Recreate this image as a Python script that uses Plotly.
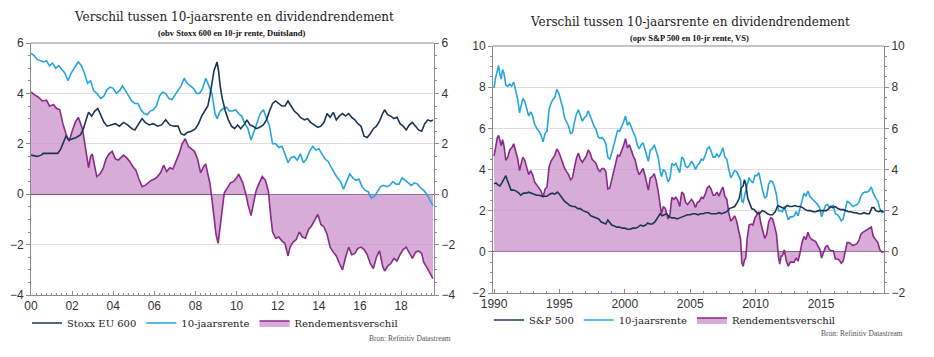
import plotly.graph_objects as go

# ---------------- Left chart: Duitsland (Stoxx EU 600) ----------------
de_rate_x = [2000.0, 2000.15, 2000.3, 2000.45, 2000.6, 2000.75, 2000.9, 2001.05, 2001.2, 2001.35, 2001.5, 2001.65, 2001.8, 2001.95,
             2002.1, 2002.3, 2002.45, 2002.6, 2002.75, 2002.9, 2003.05, 2003.2, 2003.4, 2003.55, 2003.7, 2003.85, 2004.0, 2004.15,
             2004.3, 2004.45, 2004.6, 2004.75, 2004.9, 2005.05, 2005.2, 2005.35, 2005.5, 2005.65, 2005.8, 2005.95, 2006.1, 2006.25,
             2006.4, 2006.55, 2006.7, 2006.85, 2007.0, 2007.15, 2007.3, 2007.45, 2007.6, 2007.75, 2007.9, 2008.05, 2008.2, 2008.35,
             2008.5, 2008.65, 2008.8, 2008.95, 2009.05, 2009.2, 2009.35, 2009.5, 2009.65, 2009.8, 2009.95, 2010.1, 2010.25, 2010.4,
             2010.55, 2010.7, 2010.85, 2011.0, 2011.15, 2011.3, 2011.45, 2011.6, 2011.75, 2011.9, 2012.05, 2012.2, 2012.35, 2012.5,
             2012.65, 2012.8, 2012.95, 2013.1, 2013.25, 2013.4, 2013.55, 2013.7, 2013.85, 2014.0, 2014.15, 2014.3, 2014.45, 2014.6,
             2014.75, 2014.9, 2015.05, 2015.2, 2015.35, 2015.5, 2015.65, 2015.8, 2015.95, 2016.1, 2016.25, 2016.4, 2016.55, 2016.7,
             2016.85, 2017.0, 2017.15, 2017.3, 2017.45, 2017.6, 2017.75, 2017.9, 2018.05, 2018.2, 2018.35, 2018.5, 2018.65, 2018.8,
             2018.95, 2019.1, 2019.25, 2019.4, 2019.55]
de_rate_y = [5.6, 5.5, 5.35, 5.3, 5.25, 5.3, 5.1, 5.2, 5.0, 5.1, 4.95, 4.8, 4.5, 4.8,
             5.0, 5.25, 5.1, 4.8, 4.4, 4.5, 4.1, 4.0, 3.8, 3.9, 4.15, 4.25, 4.2, 4.0,
             4.1, 4.3, 4.1, 3.9, 3.7, 3.6, 3.6, 3.35, 3.2, 3.15, 3.3, 3.35, 3.5, 3.9,
             4.05, 4.0, 3.8, 3.75, 3.95, 4.1, 4.3, 4.6, 4.4, 4.3, 4.2, 4.0, 4.0, 4.2,
             4.6, 4.3, 4.0, 3.2, 3.0, 3.3, 3.4, 3.45, 3.3, 3.3, 3.35, 3.2, 3.1, 2.8,
             2.6, 2.15, 2.5, 2.9, 3.2, 3.35, 3.0, 2.7, 2.0, 2.0, 1.85, 1.9, 1.6, 1.25,
             1.45, 1.5, 1.35, 1.6, 1.25, 1.4, 1.7, 1.9, 1.75, 1.8, 1.6, 1.4, 1.3, 1.05,
             0.85, 0.65, 0.5, 0.2, 0.5, 0.8, 0.65, 0.55, 0.6, 0.3, 0.15, 0.1, -0.15, -0.1,
             0.1, 0.3, 0.35, 0.3, 0.35, 0.5, 0.4, 0.4, 0.65, 0.55, 0.45, 0.35, 0.45, 0.4,
             0.25, 0.15, 0.0, -0.2, -0.45]

de_div_x = [2000.0, 2000.3, 2000.5, 2000.6, 2001.0, 2001.3, 2001.45, 2001.55, 2001.7, 2001.85, 2002.0, 2002.2, 2002.4, 2002.55,
            2002.7, 2002.8, 2002.95, 2003.1, 2003.25, 2003.4, 2003.55, 2003.7, 2003.9, 2004.1, 2004.3, 2004.5, 2004.7, 2004.9,
            2005.05, 2005.25, 2005.4, 2005.55, 2005.75, 2005.95, 2006.15, 2006.35, 2006.55, 2006.75, 2006.95, 2007.15, 2007.3,
            2007.45, 2007.6, 2007.8, 2008.0, 2008.15, 2008.3, 2008.45, 2008.6, 2008.7, 2008.8, 2008.9, 2009.05, 2009.12, 2009.2,
            2009.3, 2009.45, 2009.6, 2009.75, 2009.9, 2010.05, 2010.2, 2010.4, 2010.5, 2010.65, 2010.8, 2010.95, 2011.1, 2011.3,
            2011.45, 2011.6, 2011.75, 2011.9, 2012.05, 2012.2, 2012.35, 2012.5, 2012.65, 2012.8, 2012.95, 2013.1, 2013.3, 2013.45,
            2013.6, 2013.8, 2013.95, 2014.1, 2014.25, 2014.4, 2014.55, 2014.7, 2014.85, 2015.0, 2015.15, 2015.3, 2015.45, 2015.6,
            2015.75, 2015.9, 2016.05, 2016.2, 2016.35, 2016.5, 2016.65, 2016.8, 2016.95, 2017.1, 2017.2, 2017.35, 2017.5, 2017.65,
            2017.8, 2017.95, 2018.1, 2018.25, 2018.4, 2018.55, 2018.7, 2018.85, 2019.0, 2019.15, 2019.3, 2019.45, 2019.55]
de_div_y = [1.55, 1.5, 1.55, 1.62, 1.62, 1.62, 1.8, 2.0, 2.3, 2.15, 2.2, 2.25, 2.35, 2.6,
            3.0, 3.25, 3.1, 3.3, 3.4, 3.1, 2.85, 2.7, 2.75, 2.8, 2.7, 2.85, 2.75, 2.6,
            2.55, 2.8, 3.0, 2.85, 2.75, 2.8, 2.7, 2.75, 2.95, 2.75, 2.7, 2.7, 2.4,
            2.35, 2.45, 2.5, 2.6, 2.8, 3.1, 3.3, 3.5, 3.9, 4.5, 4.9, 5.25, 4.9, 4.3,
            3.8, 3.3, 2.95, 2.7, 2.6, 2.75, 2.6, 2.8, 2.95, 2.75, 2.7, 2.6, 2.65, 2.75,
            2.95, 3.3, 3.6, 3.7, 3.6, 3.5, 3.5, 3.7, 3.5, 3.3, 3.2, 3.05, 2.95, 3.0,
            2.85, 2.75, 2.65, 2.7, 2.85, 3.2, 3.05, 3.25, 2.95, 3.1, 3.2, 3.1, 3.2, 3.05,
            2.95, 2.8, 2.7, 2.3, 2.25, 2.4, 2.6, 2.7, 2.9, 3.2, 3.35, 3.15, 3.1, 3.0,
            3.05, 2.8, 2.7, 2.55, 2.75, 2.85, 2.7, 2.55, 2.5, 2.8, 2.95, 2.9, 2.95]

de_spread_x = [2000.0, 2000.15, 2000.35, 2000.55, 2000.75, 2000.9, 2001.1, 2001.25, 2001.4, 2001.55, 2001.7, 2001.85, 2002.0,
               2002.15, 2002.3, 2002.4, 2002.5, 2002.6, 2002.7, 2002.8, 2002.9, 2002.98, 2003.1, 2003.2, 2003.35, 2003.5, 2003.65,
               2003.8, 2003.95, 2004.1, 2004.25, 2004.4, 2004.5, 2004.65, 2004.8, 2004.95, 2005.1, 2005.25, 2005.4, 2005.55,
               2005.7, 2005.85, 2006.0, 2006.15, 2006.3, 2006.45, 2006.6, 2006.75, 2006.9, 2007.05, 2007.2, 2007.35, 2007.5,
               2007.65, 2007.8, 2007.95, 2008.1, 2008.25, 2008.4, 2008.5, 2008.6, 2008.7, 2008.8, 2008.9, 2009.0, 2009.1, 2009.2,
               2009.3, 2009.4, 2009.55, 2009.7, 2009.85, 2010.0, 2010.1, 2010.2, 2010.3, 2010.45, 2010.55, 2010.7, 2010.85,
               2010.95, 2011.1, 2011.25, 2011.4, 2011.55, 2011.65, 2011.75, 2011.9, 2012.05, 2012.2, 2012.35, 2012.5, 2012.6,
               2012.75, 2012.9, 2013.05, 2013.2, 2013.35, 2013.5, 2013.65, 2013.8, 2013.95, 2014.1, 2014.25, 2014.4, 2014.55,
               2014.7, 2014.85, 2015.0, 2015.15, 2015.3, 2015.45, 2015.6, 2015.75, 2015.9, 2016.05, 2016.2, 2016.35, 2016.5,
               2016.65, 2016.8, 2016.95, 2017.1, 2017.2, 2017.35, 2017.5, 2017.65, 2017.8, 2017.95, 2018.1, 2018.25, 2018.4,
               2018.55, 2018.7, 2018.85, 2019.0, 2019.1, 2019.25, 2019.4, 2019.55]
de_spread_y = [4.06, 3.95, 3.86, 3.7, 3.73, 3.5, 3.55, 3.4, 3.35, 2.8, 2.4, 2.1, 2.5,
               2.85, 3.05, 2.85, 2.6, 2.1, 1.5, 1.05, 1.5, 1.6, 1.1, 0.7, 0.8, 1.0, 1.4,
               1.6, 1.7, 1.4, 1.35, 1.45, 1.55, 1.45, 1.3, 1.1, 0.95, 0.6, 0.3, 0.35,
               0.45, 0.55, 0.6, 0.7, 0.85, 1.15, 0.9, 1.05, 1.0, 1.3, 1.6, 2.0, 2.2,
               1.9, 1.8, 1.7, 1.4, 0.85, 1.1, 1.2, 0.8, 0.45, -0.2, -1.0, -1.6, -1.95, -1.3,
               -0.6, 0.05, 0.25, 0.45, 0.5, 0.65, 0.8, 0.6, 0.45, 0.0, -0.4, -0.85, -0.3,
               0.15, 0.45, 0.7, 0.55, 0.1, -0.8, -1.5, -1.75, -1.7, -1.85, -1.95, -2.45, -2.1,
               -1.9, -1.8, -1.5, -1.7, -1.75, -1.4, -1.25, -1.0, -0.8, -1.2, -1.3, -1.6, -2.1,
               -2.3, -2.45, -2.75, -3.0, -2.5, -2.1, -2.4, -2.35, -2.15, -2.1, -2.2, -2.4, -2.75,
               -2.95, -2.5, -2.25, -2.85, -3.05, -2.85, -2.75, -2.55, -2.65, -2.4, -2.2, -2.1, -2.35,
               -2.55, -2.3, -2.25, -2.35, -2.7, -2.9, -3.1, -3.35]

de_ticks = [2000, 2002, 2004, 2006, 2008, 2010, 2012, 2014, 2016, 2018]
de_ticklabels = ["00", "02", "04", "06", "08", "10", "12", "14", "16", "18"]

# ---------------- Right chart: VS (S&P 500) ----------------
us_rate_x = [1990.0, 1990.1, 1990.25, 1990.35, 1990.45, 1990.55, 1990.65, 1990.75, 1990.9, 1991.05, 1991.2, 1991.35, 1991.5,
             1991.65, 1991.8, 1991.95, 1992.1, 1992.2, 1992.35, 1992.5, 1992.65, 1992.8, 1992.95, 1993.1, 1993.3, 1993.45, 1993.6,
             1993.75, 1993.9, 1994.05, 1994.2, 1994.35, 1994.5, 1994.65, 1994.8, 1994.95, 1995.1, 1995.25, 1995.4, 1995.55, 1995.7,
             1995.85, 1996.0, 1996.15, 1996.3, 1996.45, 1996.6, 1996.75, 1996.9, 1997.05, 1997.2, 1997.35, 1997.5, 1997.65, 1997.8,
             1997.95, 1998.1, 1998.25, 1998.4, 1998.55, 1998.7, 1998.85, 1999.0, 1999.15, 1999.3, 1999.45, 1999.6, 1999.75, 1999.9,
             2000.05, 2000.2, 2000.35, 2000.5, 2000.65, 2000.8, 2000.95, 2001.1, 2001.25, 2001.4, 2001.55, 2001.7, 2001.8, 2001.95,
             2002.1, 2002.25, 2002.4, 2002.55, 2002.7, 2002.8, 2002.95, 2003.1, 2003.3, 2003.45, 2003.6, 2003.75, 2003.9, 2004.05,
             2004.2, 2004.35, 2004.5, 2004.65, 2004.8, 2004.95, 2005.1, 2005.25, 2005.4, 2005.55, 2005.7, 2005.85, 2006.0, 2006.15,
             2006.3, 2006.45, 2006.6, 2006.75, 2006.9, 2007.05, 2007.2, 2007.35, 2007.5, 2007.65, 2007.8, 2007.95, 2008.1, 2008.25,
             2008.4, 2008.55, 2008.7, 2008.85, 2008.95, 2009.05, 2009.2, 2009.35, 2009.5, 2009.65, 2009.8, 2009.95, 2010.1, 2010.25,
             2010.4, 2010.55, 2010.7, 2010.85, 2011.0, 2011.15, 2011.3, 2011.45, 2011.6, 2011.75, 2011.9, 2012.05, 2012.2, 2012.35,
             2012.5, 2012.65, 2012.8, 2012.95, 2013.1, 2013.25, 2013.4, 2013.55, 2013.7, 2013.85, 2014.0, 2014.15, 2014.3, 2014.45,
             2014.6, 2014.75, 2014.9, 2015.05, 2015.2, 2015.35, 2015.5, 2015.65, 2015.8, 2015.95, 2016.1, 2016.25, 2016.4, 2016.55,
             2016.7, 2016.85, 2017.0, 2017.15, 2017.3, 2017.45, 2017.6, 2017.75, 2017.9, 2018.05, 2018.2, 2018.35, 2018.5, 2018.65,
             2018.85, 2019.0, 2019.2, 2019.35, 2019.5, 2019.65, 2019.8]
us_rate_y = [7.95, 8.4, 8.8, 9.05, 8.6, 8.4, 8.85, 8.7, 8.1, 8.05, 8.15, 8.05, 8.25,
             7.9, 7.45, 6.75, 7.25, 7.45, 7.3, 6.95, 6.6, 6.8, 6.6, 6.2, 5.95, 5.85, 5.65,
             5.35, 5.75, 5.85, 6.9, 7.2, 7.4, 7.5, 7.9, 7.7, 7.4, 7.0, 6.5, 6.3, 6.1,
             5.75, 5.8, 6.3, 6.7, 6.9, 6.6, 6.35, 6.5, 6.6, 6.85, 6.6, 6.25, 6.1, 5.95,
             5.6, 5.5, 5.55, 5.45, 5.25, 4.6, 4.5, 4.8, 5.2, 5.5, 5.9, 5.85, 6.05, 6.3,
             6.6, 6.15, 6.3, 6.0, 5.8, 5.6, 5.2, 5.0, 5.2, 5.3, 5.0, 4.7, 4.4, 4.95,
             5.0, 5.2, 4.9, 4.6, 3.95, 3.65, 4.0, 3.9, 3.4, 3.55, 4.3, 4.2, 4.3, 4.1,
             3.85, 4.6, 4.5, 4.15, 4.1, 4.2, 4.4, 4.25, 4.0, 4.2, 4.3, 4.5, 4.45, 4.7,
             5.0, 5.1, 4.9, 4.6, 4.6, 4.75, 4.6, 4.8, 5.05, 4.6, 4.5, 4.0, 3.6, 3.75,
             3.95, 3.9, 3.7, 3.5, 2.45, 2.4, 2.85, 3.2, 3.6, 3.45, 3.35, 3.7, 3.7, 3.85,
             3.3, 2.95, 2.6, 2.7, 3.3, 3.45, 3.4, 3.15, 2.75, 2.0, 2.0, 1.95, 2.2, 1.8,
             1.55, 1.7, 1.7, 1.75, 1.95, 1.75, 2.15, 2.6, 2.85, 2.7, 2.95, 2.7, 2.6, 2.5,
             2.45, 2.3, 2.15, 1.7, 2.0, 2.25, 2.3, 2.15, 2.2, 2.25, 1.85, 1.8, 1.7, 1.5,
             1.6, 2.1, 2.45, 2.4, 2.3, 2.2, 2.25, 2.3, 2.4, 2.7, 2.85, 2.9, 2.9, 2.95,
             3.15, 2.85, 2.6, 2.45, 2.1, 1.9, 1.95]

us_div_x = [1990.0, 1990.15, 1990.3, 1990.45, 1990.6, 1990.8, 1990.9, 1991.0, 1991.15, 1991.3, 1991.5, 1991.7, 1991.9, 1992.05,
            1992.25, 1992.45, 1992.65, 1992.85, 1993.05, 1993.25, 1993.45, 1993.65, 1993.85, 1994.05, 1994.25, 1994.45, 1994.65,
            1994.85, 1995.0, 1995.2, 1995.4, 1995.6, 1995.8, 1996.0, 1996.2, 1996.4, 1996.6, 1996.8, 1997.0, 1997.2, 1997.4, 1997.6,
            1997.8, 1998.0, 1998.2, 1998.4, 1998.55, 1998.7, 1998.85, 1999.0, 1999.2, 1999.4, 1999.6, 1999.8, 2000.0, 2000.2, 2000.4,
            2000.6, 2000.8, 2001.0, 2001.2, 2001.4, 2001.6, 2001.75, 2001.9, 2002.1, 2002.3, 2002.5, 2002.7, 2002.85, 2003.0, 2003.2,
            2003.4, 2003.6, 2003.8, 2004.0, 2004.2, 2004.4, 2004.6, 2004.8, 2005.0, 2005.2, 2005.4, 2005.6, 2005.8, 2006.0, 2006.2,
            2006.4, 2006.6, 2006.8, 2007.0, 2007.2, 2007.4, 2007.6, 2007.8, 2008.0, 2008.2, 2008.4, 2008.6, 2008.75, 2008.9, 2009.05,
            2009.15, 2009.25, 2009.4, 2009.55, 2009.7, 2009.9, 2010.1, 2010.3, 2010.5, 2010.7, 2010.9, 2011.1, 2011.3, 2011.5, 2011.7,
            2011.85, 2012.0, 2012.2, 2012.4, 2012.6, 2012.8, 2013.0, 2013.2, 2013.4, 2013.6, 2013.8, 2014.0, 2014.2, 2014.4, 2014.6,
            2014.8, 2015.0, 2015.2, 2015.4, 2015.6, 2015.75, 2015.9, 2016.1, 2016.3, 2016.5, 2016.7, 2016.9, 2017.1, 2017.3, 2017.5,
            2017.7, 2017.9, 2018.1, 2018.3, 2018.5, 2018.7, 2018.9, 2019.05, 2019.2, 2019.4, 2019.6, 2019.8]
us_div_y = [3.3, 3.35, 3.25, 3.2, 3.35, 3.6, 3.7, 3.5, 3.2, 3.0, 3.0, 2.95, 2.85, 2.75,
            2.85, 2.85, 2.9, 2.85, 2.8, 2.75, 2.75, 2.7, 2.7, 2.7, 2.8, 2.85, 2.8,
            2.9, 2.8, 2.6, 2.45, 2.35, 2.25, 2.2, 2.2, 2.1, 2.1, 2.0, 1.95, 1.9, 1.75, 1.7,
            1.65, 1.6, 1.45, 1.4, 1.35, 1.55, 1.4, 1.3, 1.25, 1.2, 1.2, 1.15, 1.15, 1.1, 1.1,
            1.15, 1.15, 1.2, 1.3, 1.25, 1.3, 1.4, 1.35, 1.35, 1.45, 1.65, 1.85, 1.75, 1.8, 1.85,
            1.7, 1.65, 1.65, 1.6, 1.65, 1.7, 1.75, 1.8, 1.8, 1.85, 1.85, 1.8, 1.85, 1.85, 1.9,
            1.9, 1.85, 1.85, 1.85, 1.9, 1.85, 1.9, 1.95, 2.1, 2.15, 2.2, 2.4, 2.6, 3.1, 3.2,
            3.5, 3.3, 2.6, 2.3, 2.1, 2.05, 1.9, 1.85, 2.0, 1.95, 1.85, 1.8, 1.8, 1.95, 2.25,
            2.2, 2.15, 2.1, 2.25, 2.2, 2.2, 2.25, 2.2, 2.2, 2.15, 2.05, 2.0, 2.0, 1.95, 1.95,
            2.0, 2.0, 2.0, 2.0, 2.1, 2.2, 2.15, 2.2, 2.1, 2.05, 2.05, 2.0, 1.95, 1.95, 1.9,
            1.9, 1.85, 1.85, 1.9, 1.85, 1.85, 2.15, 2.15, 2.0, 1.95, 2.0, 1.95]

us_spread_x = [1990.0, 1990.1, 1990.25, 1990.35, 1990.45, 1990.55, 1990.65, 1990.75, 1990.9, 1991.05, 1991.2, 1991.35, 1991.5,
               1991.65, 1991.8, 1991.95, 1992.1, 1992.2, 1992.35, 1992.5, 1992.65, 1992.8, 1992.95, 1993.1, 1993.3, 1993.45, 1993.6,
               1993.75, 1993.9, 1994.05, 1994.2, 1994.35, 1994.5, 1994.65, 1994.8, 1994.95, 1995.1, 1995.25, 1995.4, 1995.55, 1995.7,
               1995.85, 1996.0, 1996.15, 1996.3, 1996.45, 1996.6, 1996.75, 1996.9, 1997.05, 1997.2, 1997.35, 1997.5, 1997.65, 1997.8,
               1997.95, 1998.1, 1998.25, 1998.4, 1998.55, 1998.7, 1998.85, 1999.0, 1999.15, 1999.3, 1999.45, 1999.6, 1999.75, 1999.9,
               2000.05, 2000.2, 2000.35, 2000.5, 2000.65, 2000.8, 2000.95, 2001.1, 2001.25, 2001.4, 2001.55, 2001.7, 2001.8, 2001.95,
               2002.1, 2002.25, 2002.4, 2002.55, 2002.7, 2002.8, 2002.95, 2003.1, 2003.3, 2003.45, 2003.6, 2003.75, 2003.9, 2004.05,
               2004.2, 2004.35, 2004.5, 2004.65, 2004.8, 2004.95, 2005.1, 2005.25, 2005.4, 2005.55, 2005.7, 2005.85, 2006.0, 2006.15,
               2006.3, 2006.45, 2006.6, 2006.75, 2006.9, 2007.05, 2007.2, 2007.35, 2007.5, 2007.65, 2007.8, 2007.95, 2008.1, 2008.25,
               2008.4, 2008.55, 2008.7, 2008.85, 2008.95, 2009.05, 2009.15, 2009.25, 2009.35, 2009.5, 2009.65, 2009.8, 2009.95, 2010.1,
               2010.25, 2010.4, 2010.55, 2010.7, 2010.85, 2011.0, 2011.15, 2011.3, 2011.45, 2011.6, 2011.75, 2011.85, 2011.95, 2012.05,
               2012.2, 2012.35, 2012.5, 2012.65, 2012.8, 2012.95, 2013.1, 2013.25, 2013.4, 2013.55, 2013.7, 2013.85, 2014.0, 2014.15,
               2014.3, 2014.45, 2014.6, 2014.75, 2014.9, 2015.05, 2015.2, 2015.35, 2015.5, 2015.65, 2015.8, 2015.95, 2016.1, 2016.25,
               2016.4, 2016.55, 2016.7, 2016.85, 2017.0, 2017.15, 2017.3, 2017.45, 2017.6, 2017.75, 2017.9, 2018.05, 2018.2, 2018.35,
               2018.5, 2018.65, 2018.85, 2019.0, 2019.2, 2019.35, 2019.5, 2019.65, 2019.8]
us_spread_y = [4.65, 5.05, 5.55, 5.65, 5.3, 5.15, 5.45, 5.2, 4.45, 4.6, 4.95, 5.05, 5.25,
               4.9, 4.55, 3.95, 4.45, 4.6, 4.45, 4.1, 3.75, 3.95, 3.75, 3.4, 3.2, 3.1, 2.95,
               2.65, 3.05, 3.15, 4.1, 4.4, 4.55, 4.7, 5.0, 4.85, 4.6, 4.3, 4.05, 3.9, 3.75,
               3.5, 3.6, 4.1, 4.55, 4.8, 4.5, 4.35, 4.5, 4.65, 4.95, 4.8, 4.5, 4.4, 4.3,
               4.0, 3.9, 4.05, 4.05, 3.9, 3.05, 3.1, 3.5, 3.95, 4.25, 4.7, 4.65, 4.9, 5.15,
               5.5, 5.05, 5.2, 4.9, 4.65, 4.45, 4.0, 3.75, 3.9, 4.05, 3.7, 3.35, 3.0, 3.6,
               3.65, 3.8, 3.45, 2.95, 2.15, 1.85, 2.2, 2.1, 1.6, 1.8, 2.65, 2.55, 2.65, 2.5,
               2.2, 2.9, 2.8, 2.4, 2.3, 2.4, 2.55, 2.4, 2.15, 2.4, 2.45, 2.65, 2.6, 2.8,
               3.1, 3.2, 3.05, 2.75, 2.75, 2.9, 2.7, 2.95, 3.15, 2.7, 2.55, 1.9, 1.5, 1.6,
               1.75, 1.5, 1.1, 0.6, -0.55, -0.7, -0.4, -0.3, 0.6, 1.3, 1.35, 1.3, 1.65, 1.8,
               1.95, 1.4, 0.95, 0.65, 0.85, 1.45, 1.65, 1.6, 1.25, 0.85, -0.25, -0.6, -0.2, -0.2,
               0.1, -0.45, -0.7, -0.5, -0.5, -0.5, -0.3, -0.45, -0.05, 0.45, 0.75, 0.6, 0.95, 0.7,
               0.6, 0.55, 0.5, 0.3, 0.15, -0.3, 0.0, 0.25, 0.3, 0.1, 0.05, 0.05, -0.35, -0.35,
               -0.4, -0.55, -0.45, 0.1, 0.45, 0.45, 0.35, 0.3, 0.35, 0.4, 0.55, 0.85, 0.95, 1.0,
               1.05, 1.1, 1.2, 0.75, 0.6, 0.45, 0.1, 0.0, 0.0]

us_ticks = [1990, 1995, 2000, 2005, 2010, 2015]

# ---------------- styling ----------------
C_DARK = "#1C3557"
C_LIGHT = "#27A6DC"
C_PURPLE = "#8A2A8A"
C_FILL = "rgba(200,140,200,0.72)"
AXIS_GREY = "#8c8c8c"
GRID = "#dedede"
TICK_FONT = dict(family="Liberation Sans, Arial, sans-serif", size=12, color="#333333")
SERIF = "DejaVu Serif, serif"

W, H = 934, 357
L_x0, L_x1, L_ytop, L_ybot = 31, 434, 43, 295
R_x0, R_x1, R_ytop, R_ybot = 493, 884, 46, 293

fig = go.Figure()

# Left chart traces
fig.add_trace(go.Scatter(x=de_spread_x, y=de_spread_y, name="Rendementsverschil", mode="lines",
                         line=dict(color=C_PURPLE, width=1.6), fill="tozeroy", fillcolor=C_FILL,
                         xaxis="x", yaxis="y", legend="legend", legendrank=3))
fig.add_trace(go.Scatter(x=de_rate_x, y=de_rate_y, name="10-jaarsrente", mode="lines",
                         line=dict(color=C_LIGHT, width=1.6), xaxis="x", yaxis="y2",
                         legend="legend", legendrank=2))
fig.add_trace(go.Scatter(x=de_div_x, y=de_div_y, name="Stoxx EU 600", mode="lines",
                         line=dict(color=C_DARK, width=1.6), xaxis="x", yaxis="y2",
                         legend="legend", legendrank=1))

# Right chart traces
fig.add_trace(go.Scatter(x=us_spread_x, y=us_spread_y, name="Rendementsverschil", mode="lines",
                         line=dict(color=C_PURPLE, width=1.6), fill="tozeroy", fillcolor=C_FILL,
                         xaxis="x2", yaxis="y3", legend="legend2", legendrank=3))
fig.add_trace(go.Scatter(x=us_rate_x, y=us_rate_y, name="10-jaarsrente", mode="lines",
                         line=dict(color=C_LIGHT, width=1.6), xaxis="x2", yaxis="y4",
                         legend="legend2", legendrank=2))
fig.add_trace(go.Scatter(x=us_div_x, y=us_div_y, name="S&P 500", mode="lines",
                         line=dict(color=C_DARK, width=1.6), xaxis="x2", yaxis="y4",
                         legend="legend2", legendrank=1))

def ydom(top, bot):
    return [(H - bot) / H, (H - top) / H]

common_y = dict(showline=True, linecolor=AXIS_GREY, linewidth=1, ticks="outside", ticklen=4,
                tickcolor=AXIS_GREY, tickfont=TICK_FONT, fixedrange=True, automargin=False,
                minor=dict(ticks="outside", ticklen=2, tickcolor=AXIS_GREY, dtick=0.5, showgrid=False))

fig.update_layout(
    width=W, height=H, margin=dict(l=0, r=0, t=0, b=0, autoexpand=False),
    paper_bgcolor="white", plot_bgcolor="white",
    xaxis=dict(domain=[L_x0 / W, L_x1 / W], anchor="y", range=[2000, 2019.6], automargin=False,
               tickmode="array", tickvals=de_ticks, ticktext=de_ticklabels,
               ticks="inside", ticklen=4, tickcolor=AXIS_GREY, showline=True, linecolor=AXIS_GREY,
               showgrid=False, zeroline=False, tickfont=TICK_FONT, fixedrange=True,
               minor=dict(tickmode="linear", tick0=2000, dtick=0.25, ticks="inside", ticklen=2,
                          tickcolor=AXIS_GREY, showgrid=False)),
    yaxis=dict(domain=ydom(L_ytop, L_ybot), anchor="x", range=[-4, 6], dtick=2,
               showgrid=True, gridcolor=GRID, zeroline=True, zerolinecolor="#6e4f6e", zerolinewidth=1,
               **common_y),
    yaxis2=dict(overlaying="y", anchor="x", side="right", range=[-4, 6], dtick=2,
                showgrid=False, zeroline=False, **common_y),
    xaxis2=dict(domain=[R_x0 / W, R_x1 / W], anchor="y3", range=[1989.92, 2019.82], automargin=False,
                tickmode="array", tickvals=us_ticks, ticktext=[str(t) for t in us_ticks],
                ticks="inside", ticklen=4, tickcolor=AXIS_GREY, showline=True, linecolor=AXIS_GREY,
                showgrid=False, zeroline=False, tickfont=TICK_FONT, fixedrange=True,
                minor=dict(tickmode="linear", tick0=1990, dtick=1, ticks="inside", ticklen=2,
                           tickcolor=AXIS_GREY, showgrid=False)),
    yaxis3=dict(domain=ydom(R_ytop, R_ybot), anchor="x2", range=[-2, 10], dtick=2,
                showgrid=True, gridcolor=GRID, zeroline=True, zerolinecolor="#6e5a6e", zerolinewidth=1,
                **common_y),
    yaxis4=dict(overlaying="y3", anchor="x2", side="right", range=[-2, 10], dtick=2,
                showgrid=False, zeroline=False, **common_y),
    legend=dict(orientation="h", x=27 / W, y=(H - 323) / H, xanchor="left", yanchor="middle",
                font=dict(family=SERIF, size=10, color="#222"), bgcolor="rgba(0,0,0,0)",
                traceorder="normal", itemwidth=30),
    legend2=dict(orientation="h", x=489 / W, y=(H - 320) / H, xanchor="left", yanchor="middle",
                 font=dict(family=SERIF, size=10, color="#222"), bgcolor="rgba(0,0,0,0)",
                 traceorder="normal", itemwidth=30),
    showlegend=True,
)

# top frame lines
for x0, x1, yt in [(L_x0, L_x1, L_ytop), (R_x0, R_x1, R_ytop)]:
    fig.add_shape(type="line", xref="paper", yref="paper", x0=x0 / W, x1=x1 / W,
                  y0=(H - yt) / H, y1=(H - yt) / H, line=dict(color=AXIS_GREY, width=1))

ann = [
    dict(text="Verschil tussen 10-jaarsrente en dividendrendement", x=234, y=17, size=12, fam=SERIF, col="#222"),
    dict(text="<b>(obv Stoxx 600 en 10-jr rente, Duitsland)</b>", x=231, y=33, size=8.5, fam="Liberation Serif, serif", col="#111"),
    dict(text="Verschil tussen 10-jaarsrente en dividendrendement", x=690, y=22, size=12, fam=SERIF, col="#222"),
    dict(text="<b>(opv S&P 500 en 10-jr rente, VS)</b>", x=689, y=38, size=8.5, fam="Liberation Serif, serif", col="#111"),
]
for a in ann:
    fig.add_annotation(text=a["text"], xref="paper", yref="paper", x=a["x"] / W, y=(H - a["y"]) / H,
                       xanchor="center", yanchor="middle", showarrow=False,
                       font=dict(family=a["fam"], size=a["size"], color=a["col"]))

for txt, xr, yy in [("Bron: Refinitiv Datastream", 453, 338), ("Bron: Refinitiv Datastream", 905, 333)]:
    fig.add_annotation(text=txt, xref="paper", yref="paper", x=xr / W, y=(H - yy) / H,
                       xanchor="right", yanchor="middle", showarrow=False,
                       font=dict(family="Liberation Serif, serif", size=7.5, color="#555"))

fig.write_html("out.html", config={"displayModeBar": False},
               post_script="document.body.style.margin='0px';document.body.style.padding='0px';")
